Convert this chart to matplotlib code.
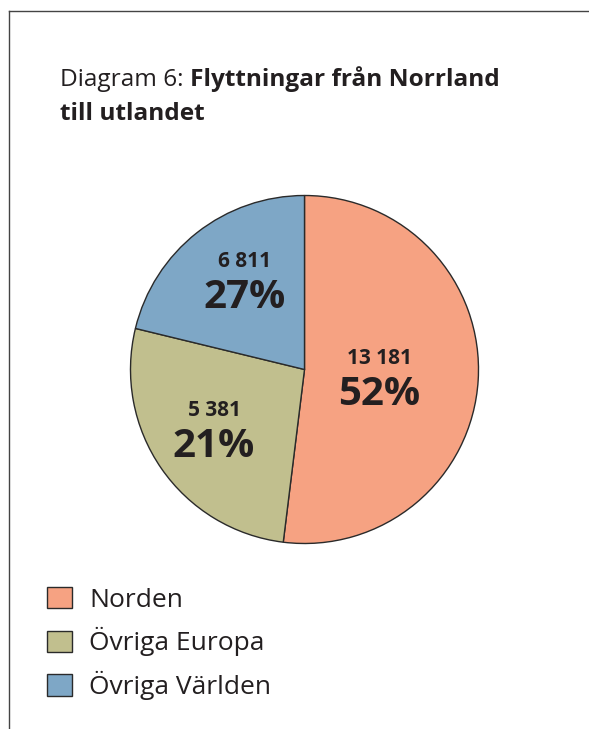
import matplotlib
matplotlib.use("Agg")
import matplotlib.pyplot as plt
from matplotlib.lines import Line2D
from matplotlib.patches import Patch

# Data
regioner = ["Norden", "Övriga Europa", "Övriga Världen"]
flyttningar = [13181, 5381, 6811]
farger = ["#F6A282", "#C1BF8E", "#7EA7C6"]

# the source chart draws the Europa and Världen wedges with each other's
# sizes (labels stay correct), keep that so the picture matches
kil_storlek = [flyttningar[0], flyttningar[2], flyttningar[1]]

# label positions in pie units: (x, baseline of the % text)
label_pos = [(0.43, -0.204), (-0.52, -0.503), (-0.342, 0.353)]

plt.rcParams['font.family'] = ['Open Sans', 'DejaVu Sans']
textfarg = "#231F20"

W, H = 589, 729
fig = plt.figure(figsize=(W / 100, H / 100), dpi=100)

# frame lines (top and left)
fig.add_artist(Line2D([9 / W, 1], [1 - 11 / H, 1 - 11 / H], transform=fig.transFigure,
                      color="#444444", lw=1.0))
fig.add_artist(Line2D([9 / W, 9 / W], [1 - 11 / H, 0], transform=fig.transFigure,
                      color="#444444", lw=1.0))

# pie axes: center (304.5, 369.5) px, radius 174 px
cx, cy, r = 304.5, 369.5, 174
ax = fig.add_axes([(cx - r) / W, 1 - (cy + r) / H, 2 * r / W, 2 * r / H])
ax.pie(kil_storlek, colors=farger, startangle=90, counterclock=False, radius=1,
       wedgeprops=dict(edgecolor="#2a2a2a", linewidth=1.0))
ax.set_xlim(-1.0, 1.0)
ax.set_ylim(-1.0, 1.0)
ax.set_aspect("equal")
ax.axis("off")

total = sum(flyttningar)
for v, (x, y) in zip(flyttningar, label_pos):
    antal = f"{v:,}".replace(",", " ")
    pct = f"{round(100 * v / total)}%"
    ax.text(x, y + 0.236, antal, ha="center", va="baseline", fontsize=15,
            fontweight="bold", color=textfarg)
    ax.text(x, y, pct, ha="center", va="baseline", fontsize=29,
            fontweight="bold", color=textfarg)

# title
t1 = fig.text(60 / W, 1 - 86 / H, "Diagram 6: ", fontsize=17.6, color=textfarg,
              ha="left", va="baseline")
ax.annotate("Flyttningar från Norrland", xy=(1, 0), xycoords=t1, fontsize=17.6,
            fontweight="bold", color=textfarg, ha="left", va="bottom",
            annotation_clip=False)
fig.text(60 / W, 1 - 120 / H, "till utlandet", fontsize=17.6, fontweight="bold",
         color=textfarg, ha="left", va="baseline")

# legend
handles = [Patch(facecolor=c, edgecolor="#2a2a2a", linewidth=1.0) for c in farger]
fig.legend(handles, regioner, loc="upper left", bbox_to_anchor=(47 / W, 1 - 587 / H),
           frameon=False, fontsize=19, handlelength=0.95, handleheight=0.86,
           handletextpad=0.64, labelspacing=0.55, borderpad=0, borderaxespad=0,
           labelcolor=textfarg)

fig.savefig("out.png", dpi=100)
